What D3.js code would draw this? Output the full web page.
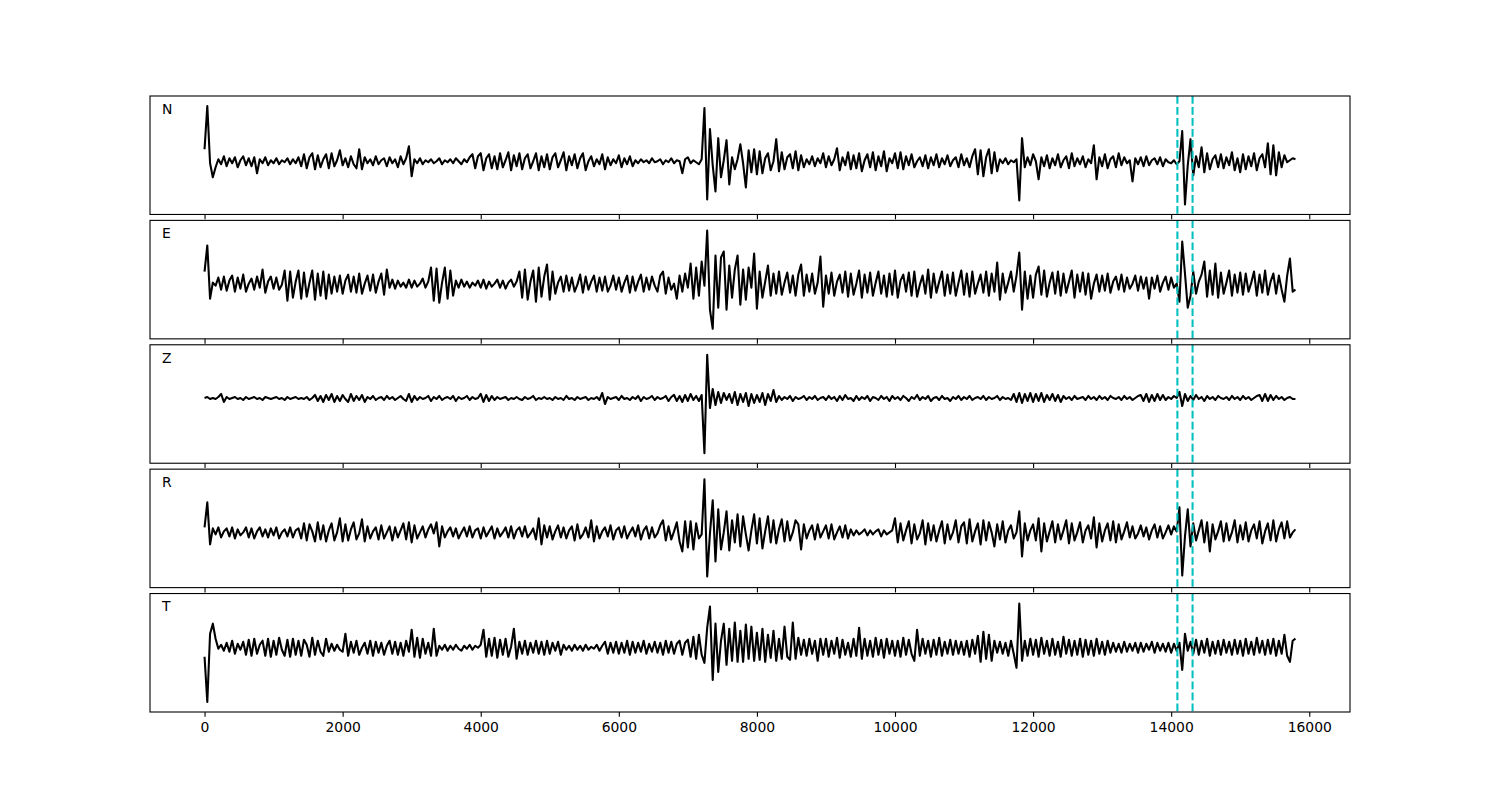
<!DOCTYPE html>
<html><head><meta charset="utf-8">
<script src="https://cdn.jsdelivr.net/npm/d3@7"></script>
<style>body{margin:0;background:#fff} svg{display:block}</style>
</head><body><svg id="chart" width="1500" height="800"></svg>
<script>
const channels = ["N", "E", "Z", "R", "T"];
const sampleStep = 40;
const traceN = [
6,49,-8,-22,-12,-4,-9,-1,-11,-3,-8,-2,-12,-5,-1,-10,-3,-11,-2,-18,-4,-8,-2,-10,-5,
-8,-3,-9,-5,-7,-3,-9,-4,-8,-2,-11,1,-13,-2,2,-14,0,-12,-4,1,-13,2,-11,-5,5,
-10,-3,-12,-1,-9,-13,6,-14,-2,-8,-4,-10,-1,-9,-5,-3,-11,-2,-8,-4,-12,-1,-9,-3,9,
-21,-4,-8,-3,-9,-5,-7,-4,-8,-6,-3,-9,-5,-7,-4,-8,-3,-6,-9,-4,-7,-2,1,-13,-1,
2,-15,-3,1,-13,-1,-14,2,-12,-5,3,-15,0,-11,2,-14,-3,1,-13,-6,2,-15,-1,-12,1,
-14,-2,2,-12,-5,3,-15,-1,-10,1,-13,-3,2,-15,-6,-1,-11,-4,-9,1,-14,-2,-10,-4,-8,
0,-12,-3,-9,-1,-11,-5,-8,-4,-7,-5,-8,-3,-7,-6,-4,-9,-5,-7,-3,-8,-5,-6,-18,-4,
-2,-8,-5,-7,-9,-4,47,-44,26,-10,-36,17,-22,-5,15,-29,-2,-14,-4,11,-8,-32,5,-17,6,
-19,4,-18,-3,2,-15,-6,16,-16,3,-14,-2,1,-13,4,-15,0,-12,-4,-9,-1,-11,-3,-8,2,
-12,-1,-10,-4,7,-15,-2,-10,3,-14,0,-13,2,-16,-5,1,-12,3,-15,-1,-11,4,-16,-3,-8,
2,-13,3,-14,-1,-10,1,-12,-6,-2,-11,0,-13,-2,-10,1,-12,-3,-9,0,-11,-5,-2,-12,1,
-10,-3,-12,-1,6,-19,5,-21,-2,6,-18,3,-16,-4,-8,-3,-9,-5,-7,-4,-45,17,-12,-2,-10,
1,-6,-24,-2,-11,0,-13,-3,-10,1,-12,-5,-1,-13,2,-11,-3,-9,-1,-12,-4,-8,10,-24,-2,
-11,1,-13,-4,-1,-12,2,-10,-2,-8,-5,-26,-3,-9,-2,-11,-1,-10,-5,-3,-9,-2,-11,-4,-7,
-8,-5,-9,-6,24,-49,-10,16,-20,-1,-12,8,-17,2,-14,-4,0,-12,1,-13,-2,-10,3,-15,-3,
-17,1,-14,-1,-11,2,-15,-3,1,-12,12,-19,10,-20,3,-12,0,-7,-5,-3,-4
];
const traceE = [
8,34,-19,-3,-6,2,-10,3,-11,-1,4,-12,2,-9,5,-12,-4,1,-10,3,-8,10,-13,-2,3,
-9,2,-10,-5,9,-21,8,-18,-2,9,-19,7,-17,-3,9,-20,6,-16,8,-19,5,-14,3,-12,4,
-14,-1,5,-12,3,-13,6,-14,-4,4,-11,5,-13,-2,6,-15,10,-8,0,-9,-1,-7,-3,-8,0,
-8,-1,-7,-4,1,-8,-2,12,-21,11,-23,-3,12,-19,9,-16,-1,-8,0,-7,-2,-8,-3,-6,-1,
-8,0,-9,-2,-7,-4,0,-8,-1,-9,-3,0,-7,-2,8,-18,10,-20,-2,9,-22,12,-17,3,15,
-20,8,-14,-3,3,-12,4,-11,2,-12,-5,5,-13,3,-10,-2,4,-12,2,-11,3,-12,-6,4,-10,
2,-12,-3,4,-13,3,-11,-2,5,-12,2,-10,3,-6,-12,4,8,-14,2,-10,-4,-19,4,-12,6,
-8,16,-19,12,-16,18,-6,49,-30,-49,24,-28,22,28,-30,14,-18,10,24,-25,10,-20,12,-8,26,
-29,8,-18,-2,14,-16,6,-14,8,-15,-3,7,-13,4,-16,5,15,-16,5,-12,6,-14,-3,23,-27,
4,-14,7,-16,-2,5,-13,8,-17,6,-15,-4,9,-18,5,-13,7,-16,-3,8,-14,4,-17,6,-15,
9,-18,-1,5,-12,7,-16,8,-17,-5,4,-14,10,-18,6,-13,-2,8,-16,5,-14,7,-16,-3,9,
-15,6,-17,8,-14,-4,5,-13,8,-16,6,-12,17,-20,6,-13,-3,8,-12,4,27,-30,8,-19,4,
-18,5,13,-15,9,-17,-3,7,-14,8,-16,6,-13,-2,9,-18,5,-12,7,-15,6,-19,-4,5,-12,
4,-11,6,-13,-2,3,-10,5,-12,2,-9,-4,4,-11,3,-9,2,-19,2,-9,4,-12,-3,3,-10,
2,-8,-4,-22,38,6,-28,-16,8,-14,-2,5,18,-17,9,-15,16,-18,7,-14,-3,9,-16,5,-13,
7,-15,6,-12,-3,8,-16,5,-13,9,-15,-2,6,-14,4,-10,-22,4,21,-12,-10
];
const traceZ = [
6,7,5,6,5,7,10,2,7,5,6,7,5,6,4,7,5,6,7,5,6,4,7,6,5,
6,7,5,6,4,7,5,6,7,5,6,5,7,4,6,9,3,8,2,9,4,10,2,8,3,
9,5,2,10,3,8,4,9,2,7,5,8,4,6,7,4,8,5,7,4,6,8,5,3,10,
2,8,4,7,5,6,8,3,7,5,8,4,6,7,5,8,3,7,5,6,8,4,7,5,6,
10,2,9,3,8,4,7,5,6,7,4,6,5,7,5,4,7,5,6,8,4,6,5,7,5,
6,4,7,5,6,4,8,5,6,4,7,5,6,7,4,6,5,7,4,11,0,7,5,6,7,
4,8,5,6,4,7,5,8,3,7,5,6,8,4,7,5,6,8,3,7,9,3,8,2,9,
3,10,4,8,3,9,-49,49,-4,15,-1,12,1,11,4,10,1,12,-1,10,2,11,-2,10,1,
9,2,11,-1,10,3,14,2,8,4,7,5,8,3,7,5,6,8,4,7,5,8,4,6,7,
4,8,5,7,3,8,4,9,5,6,3,8,4,7,5,8,3,7,6,4,8,5,7,3,8,
5,7,4,8,6,3,7,5,9,4,7,5,8,3,6,7,4,8,5,6,3,7,5,8,4,
7,5,8,4,6,7,5,8,4,7,5,6,8,4,7,5,6,4,10,2,11,1,10,3,11,
2,10,3,11,2,9,4,10,3,9,2,8,5,7,4,8,5,6,7,4,8,5,7,4,8,
5,7,4,8,6,5,7,4,8,5,7,4,6,8,9,3,10,2,9,3,10,4,9,4,7,
5,8,6,12,-2,10,3,8,4,9,5,7,3,8,5,7,4,8,6,5,7,4,8,5,7,
4,8,5,7,4,6,8,9,3,10,3,9,4,8,5,7,4,6,7,5,5
];
const traceR = [
1,26,-16,0,-6,1,-9,-3,0,-8,1,-10,-1,-7,-4,1,-9,0,-10,-3,1,-8,-1,-9,0,
-7,1,-10,-4,-1,-8,1,-9,-2,0,-10,5,-12,4,-3,-13,6,-11,3,-13,-2,5,-12,-4,10,
-13,4,-12,-1,6,-11,-5,9,-13,2,-10,-3,1,-11,3,-10,-4,2,-12,1,-9,-2,5,-11,6,
-14,3,-10,-4,2,-9,-1,4,-5,6,-18,2,-9,-3,1,-8,0,-10,-4,1,-8,2,-9,-2,0,
-10,1,-8,-3,2,-10,0,-8,-4,1,-9,2,-10,-2,1,-8,2,-9,-5,0,-11,10,-16,3,-9,
2,-11,-3,3,-9,1,-10,-2,2,-12,4,-10,-6,1,-9,8,-13,2,-10,-3,1,-8,3,-11,-2,
1,-9,2,-10,-4,1,-8,3,-11,-2,2,-10,1,-9,-5,3,8,-12,2,-11,-3,6,-13,-23,7,
-19,7,-21,5,-10,-6,49,-48,-5,28,-33,19,-21,-4,17,-22,8,-14,14,-18,12,-6,-22,-2,14,
-15,10,-20,-3,12,-14,8,-15,-1,9,-13,7,-12,-4,8,4,-21,4,-10,-2,3,-11,4,-9,-3,
3,-10,4,-11,-4,2,-9,3,-10,-1,-7,-2,-6,-4,-1,-7,-2,-6,-3,-1,-8,-2,-6,-4,-2,
10,-14,5,-12,-2,7,-15,4,-11,-5,8,-16,5,-12,3,-13,-2,7,-15,4,-11,-4,8,-14,2,
6,-15,9,-13,-3,5,-16,8,-12,6,-4,-18,4,-11,7,-14,-2,3,-10,-4,17,-28,5,-12,-2,
4,-12,10,-23,5,-13,-3,7,-14,4,-11,-2,8,-15,5,-12,-4,6,-14,-2,3,-10,11,-19,5,
-13,-2,5,-12,7,-14,4,-11,-3,6,-9,2,-10,-5,3,-8,1,-11,-2,4,-9,2,-10,-4,3,
-6,2,-3,21,-47,-8,19,-18,5,-12,-2,8,-14,6,-23,4,-11,-3,7,-13,5,-12,-4,8,-14,
3,-11,6,-13,-2,4,-10,7,-15,-3,5,-12,8,-13,-1,6,-10,7,-9,-4,-1
];
const traceT = [
-4,-49,19,29,14,4,8,2,10,1,12,-1,9,3,11,-2,13,-3,14,-1,8,12,-3,14,-4,
12,-2,15,3,-3,13,-4,14,-2,12,-3,13,8,-4,15,-2,12,1,-3,14,1,9,2,8,3,
1,19,-3,11,0,12,-2,5,10,-1,12,-3,11,0,10,-2,7,12,-1,11,-2,10,-3,12,1,
23,-4,15,-5,14,-1,10,-3,24,-3,7,3,8,2,7,3,8,4,2,7,4,8,3,7,5,
8,23,-4,14,-3,15,-5,13,-2,14,-4,6,24,-6,11,-1,12,-2,10,0,12,-1,11,-2,12,
-1,10,2,11,-2,8,3,7,2,8,3,7,2,8,3,6,4,8,2,7,11,-1,10,0,11,
-1,10,0,12,-2,11,0,10,1,12,-1,9,1,11,0,10,-2,12,0,11,-1,9,12,-2,10,
13,-4,16,-6,18,-2,-10,25,46,-27,29,-19,12,29,-12,24,-8,30,-9,22,-9,28,-6,26,-8,
20,-7,24,-9,18,-5,22,-8,14,-6,26,-4,-7,30,-6,15,-2,13,-3,14,-1,12,-8,14,-2,
14,-4,12,-1,15,-5,13,-2,10,-4,14,-3,25,-6,14,-3,12,-4,15,-2,13,-5,14,-1,12,
-3,12,-4,15,-2,13,-1,-8,23,-3,14,-1,12,-4,13,-2,15,-3,11,-1,13,-2,12,-1,11,
-2,12,-4,13,-1,17,-9,21,-6,18,-8,12,0,11,-1,10,-3,12,-1,-15,49,-8,12,-3,14,
-2,13,-4,15,-1,12,-3,14,-2,11,-4,16,-1,13,-3,12,-2,14,-4,13,-2,12,-3,14,-1,
11,-2,12,0,10,1,9,0,11,1,9,2,10,0,10,1,9,3,11,0,10,2,9,1,10,
0,9,2,10,-17,19,2,11,-1,13,-2,12,0,14,-3,11,-1,12,-2,13,0,11,-2,13,-1,
12,-3,14,-1,11,-2,15,0,12,-2,13,-1,14,-3,12,-1,18,-3,-9,12,14
];
const markerTimes = [14090, 14310];
const xTicks = [0, 2000, 4000, 6000, 8000, 10000, 12000, 14000, 16000];
const yLimits = [-59, 59];

const traces = [traceN, traceE, traceZ, traceR, traceT];

(function draw() {
  const svg = d3.select("#chart");
  const mLeft = 150, mRight = 1350, mTop = 96, mBottom = 712;
  const n = channels.length, hs = 0.05;
  const ph = (mBottom - mTop) / (n + (n - 1) * hs);
  const gap = ph * hs;
  const tMax = (traceN.length - 1) * sampleStep;
  const pad = tMax * 0.05;
  const x = d3.scaleLinear().domain([-pad, tMax + pad]).range([mLeft, mRight]);
  const font = "DejaVu Sans, sans-serif";

  channels.forEach((ch, k) => {
    const y0 = mTop + k * (ph + gap);
    const y = d3.scaleLinear().domain(yLimits).range([y0 + ph, y0]);
    const g = svg.append("g");
    const line = d3.line().x((d, i) => x(i * sampleStep)).y(d => y(d));
    g.append("path").datum(traces[k])
      .attr("d", line).attr("fill", "none").attr("stroke", "#000")
      .attr("stroke-width", 2.08).attr("stroke-linejoin", "round");
    markerTimes.forEach(t => {
      g.append("line").attr("x1", x(t)).attr("x2", x(t))
        .attr("y1", y0).attr("y2", y0 + ph)
        .attr("stroke", "#00bfbf").attr("stroke-width", 2.08)
        .attr("stroke-dasharray", "7.7,3.3");
    });
    g.append("rect").attr("x", mLeft).attr("y", y0)
      .attr("width", mRight - mLeft).attr("height", ph)
      .attr("fill", "none").attr("stroke", "#000").attr("stroke-width", 1.1);
    g.append("text").attr("x", mLeft + 0.01 * (mRight - mLeft)).attr("y", y0 + 0.15 * ph)
      .attr("font-family", font).attr("font-size", 13.9).attr("fill", "#000").text(ch);
    const axis = d3.axisBottom(x).tickValues(xTicks).tickSize(4.86).tickPadding(4.86)
      .tickFormat(k === n - 1 ? d3.format("d") : () => "");
    const ag = g.append("g").attr("transform", `translate(0,${y0 + ph})`).call(axis);
    ag.select(".domain").remove();
    ag.selectAll(".tick line").attr("stroke", "#000").attr("stroke-width", 1.1);
    ag.selectAll(".tick text").attr("font-family", font).attr("font-size", 13.9).attr("fill", "#000");
  });

  const lens = traces.map(t => t.length);
  if (lens.some(l => l !== lens[0])) throw new Error("length mismatch " + lens.join(","));
})();
</script>
</body></html>
